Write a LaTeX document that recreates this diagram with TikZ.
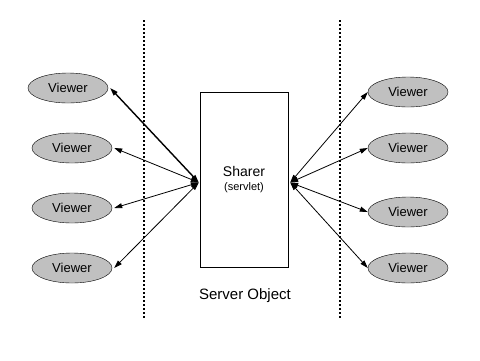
\documentclass[tikz,border=0pt]{standalone}
\usepackage{fontspec}
\setmainfont{Liberation Sans}
\usetikzlibrary{arrows.meta,shapes.geometric}
\tikzset{
  viewer/.style={ellipse, draw, fill=viewercolor, minimum width=80pt, minimum height=30pt, inner sep=0pt},
  link/.style={<->, >={Triangle[length=8pt,width=5pt]}, line width=0.8pt},
  wall/.style={line width=2pt, dash pattern=on 2pt off 2pt}
}
\begin{document}
\begin{tikzpicture}[x=1pt,y=-1pt,every node/.style={font=\fontsize{13}{15}\selectfont}]
\definecolor{viewercolor}{RGB}{192,192,192}
\useasboundingbox (0,0) rectangle (480,360);
% Dotted borders of the server
\foreach \x in {144,340} {
  \draw[wall] (\x,20) -- (\x,318);
}
% Servlet box
\node[draw, minimum width=88pt, minimum height=175pt, align=center, inner sep=0pt] (sharer) at (244,179.5)
  {{\fontsize{14}{16}\selectfont Sharer}\\[-1pt]{\fontsize{11}{13}\selectfont (servlet)}};
\node[font=\fontsize{15}{17}\selectfont] (server) at (245,296) {Server Object};
% Viewers on the left
\foreach \x/\y/\w [count=\i] in {68/88/1.4, 72/148/0.8, 72/208/0.8, 72/268/0.8} {
  \node[viewer] (lv\i) at (\x,\y) {Viewer};
  \draw[link, line width=\w pt] ([xshift=2pt]lv\i.east) -- ([xshift=-1pt,yshift=-3pt]sharer.west);
}
% Viewers on the right
\foreach \y [count=\i] in {92,148,212,268} {
  \node[viewer] (rv\i) at (408,\y) {Viewer};
  \draw[link] (rv\i.west) -- ([xshift=2pt,yshift=-3pt]sharer.east);
}
\end{tikzpicture}
\end{document}
